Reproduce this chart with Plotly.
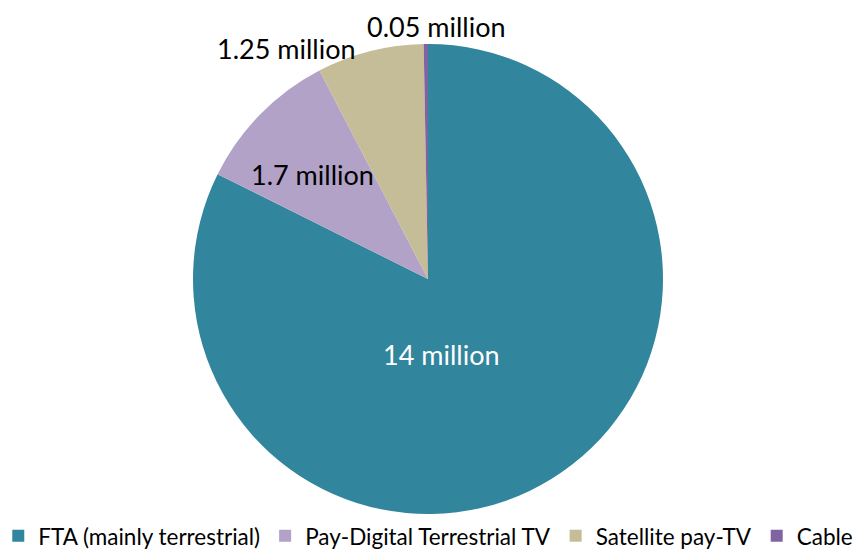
import plotly.graph_objects as go

categories = ["FTA (mainly terrestrial)", "Pay-Digital Terrestrial TV", "Satellite pay-TV", "Cable"]
households_m = [14, 1.7, 1.25, 0.05]
labels_text = ["14 million", "1.7 million", "1.25 million", "0.05 million"]
colors = ["#31859C", "#B2A2C7", "#C4BD97", "#8064A2"]
text_colors = ["#FFFFFF", "#000000", "#000000", "#000000"]

# label anchor points in pixels (centre of text)
label_px = [(441.5, 354), (312, 174), (286.5, 48), (436.5, 27)]

W, H = 864, 550
cx, cy, r = 428, 279, 235

fig = go.Figure(go.Pie(
    labels=categories,
    values=households_m,
    textinfo="none",
    marker=dict(colors=colors, line=dict(width=0)),
    sort=False,
    direction="clockwise",
    rotation=0,
    hole=0,
    domain=dict(x=[(cx - r) / W, (cx + r) / W], y=[(H - cy - r) / H, (H - cy + r) / H]),
    showlegend=True,
    hoverinfo="label+value",
))

for txt, col, (px, py) in zip(labels_text, text_colors, label_px):
    fig.add_annotation(
        x=px / W, y=1 - py / H, xref="paper", yref="paper",
        text=txt, showarrow=False, xanchor="center", yanchor="middle",
        font=dict(family="Lato", size=27, color=col),
    )

fig.update_layout(
    width=W, height=H,
    margin=dict(l=0, r=0, t=0, b=0, autoexpand=False),
    paper_bgcolor="white",
    font=dict(family="Lato", color="#000000"),
    legend=dict(
        orientation="h", x=-0.002, xanchor="left", y=-0.014, yanchor="bottom",
        font=dict(family="Lato", size=22.5, color="#000000"),
        itemwidth=30, tracegroupgap=0, bgcolor="rgba(0,0,0,0)",
    ),
)

fig.write_html("out.html")
